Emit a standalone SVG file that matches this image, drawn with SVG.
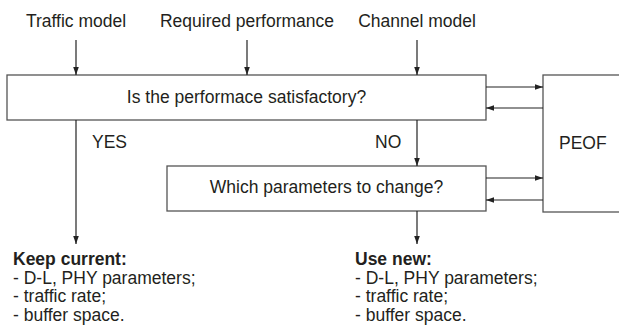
<svg xmlns="http://www.w3.org/2000/svg" width="619" height="332" viewBox="0 0 619 332">
<style>
text{font-family:"Liberation Sans",Arial,sans-serif;font-size:17.5px;fill:#231f20}
.b{font-weight:bold}
.box{fill:#fff;stroke:#555;stroke-width:1.3}
.ln{stroke:#222;stroke-width:1.2;fill:none;marker-end:url(#ah)}
</style>
<defs>
<marker id="ah" viewBox="0 0 10 10" refX="10" refY="5" markerWidth="8" markerHeight="8" markerUnits="userSpaceOnUse" orient="auto">
<path d="M0,1.5 L10,5 L0,8.5 Z" fill="#222"/>
</marker>
</defs>
<g id="labels-top">
<text x="76" y="27" text-anchor="middle">Traffic model</text>
<text x="247" y="27" text-anchor="middle">Required performance</text>
<text x="417" y="27" text-anchor="middle">Channel model</text>
</g>
<g id="node-check">
<rect class="box" x="7" y="75" width="479" height="45"/>
<text x="246.5" y="103" text-anchor="middle">Is the performace satisfactory?</text>
</g>
<g id="node-which">
<rect class="box" x="167" y="166" width="319" height="45"/>
<text x="326.5" y="193" text-anchor="middle">Which parameters to change?</text>
</g>
<g id="node-peof">
<rect class="box" x="543" y="75" width="90" height="137"/>
<text x="559" y="149">PEOF</text>
</g>
<g id="node-keep">
<text class="b" x="13" y="265">Keep current:</text>
<text x="13" y="283.5">- D-L, PHY parameters;</text>
<text x="13" y="302">- traffic rate;</text>
<text x="13" y="320.5">- buffer space.</text>
</g>
<g id="node-new">
<text class="b" x="355" y="265">Use new:</text>
<text x="355" y="283.5">- D-L, PHY parameters;</text>
<text x="355" y="302">- traffic rate;</text>
<text x="355" y="320.5">- buffer space.</text>
</g>
<g id="connectors">
<line class="ln" x1="76" y1="40" x2="76" y2="75"/>
<line class="ln" x1="247" y1="40" x2="247" y2="75"/>
<line class="ln" x1="417" y1="40" x2="417" y2="75"/>
<line class="ln" x1="486" y1="87" x2="543" y2="87"/>
<line class="ln" x1="543" y1="108" x2="486" y2="108"/>
<line class="ln" x1="486" y1="178" x2="543" y2="178"/>
<line class="ln" x1="543" y1="200" x2="486" y2="200"/>
<line class="ln" x1="76" y1="120" x2="76" y2="244"/>
<line class="ln" x1="417" y1="120" x2="417" y2="166"/>
<line class="ln" x1="417" y1="211" x2="417" y2="244"/>
<text x="92" y="148">YES</text>
<text x="375" y="148">NO</text>
</g>
</svg>
